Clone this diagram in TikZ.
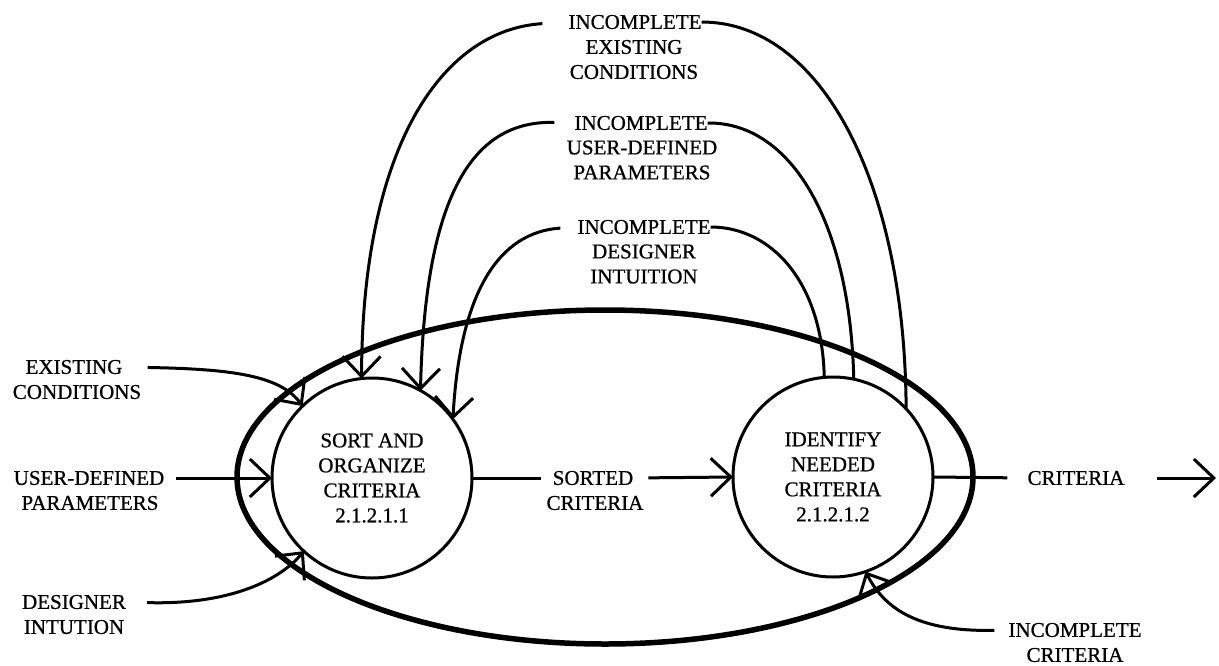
\documentclass[tikz,border=0pt]{standalone}
\usepackage{fontspec}
\setmainfont[FakeBold=0.8,AutoFakeBold=0.8]{Liberation Serif}
\usetikzlibrary{arrows.meta}
\begin{document}
\begin{tikzpicture}[x=1pt,y=-1pt,
    lbl/.style={font=\fontsize{21}{25}\selectfont\bfseries, align=center, inner sep=0pt},
    proc/.style={draw, circle, line width=3pt, minimum size=200pt, inner sep=0pt, outer sep=0pt,
                 font=\fontsize{21}{25}\selectfont\bfseries, align=center},
    conn/.style={line width=3pt},
    flow/.style={conn, -{Straight Barb[length=20pt,width=38pt]}}]
  \useasboundingbox (0,0) rectangle (1219,665);
  % boundary of 2.1.2.1
  \draw[line width=5.5pt] (605,477) ellipse [x radius=368, y radius=167];
  % the two processes
  \node[proc] (org) at (372,478) {SORT AND\\ORGANIZE\\CRITERIA\\2.1.2.1.1};
  \node[proc] (idn) at (833,477) {IDENTIFY\\NEEDED\\CRITERIA\\2.1.2.1.2};
  % inputs on the left
  \node[lbl] (ex1) at (74,367) {EXISTING};
  \node[lbl] (ex2) at (77,392) {CONDITIONS};
  \node[lbl] (udp1) at (89,478) {USER-DEFINED};
  \node[lbl] (udp2) at (90,503) {PARAMETERS};
  \node[lbl] (dsg1) at (74,602) {DESIGNER};
  \node[lbl] (dsg2) at (74,627) {INTUTION};
  \draw[flow, shorten <=25pt] (ex1.east) .. controls (230,369) and (280,375) .. (org.134);
  \draw[flow, shorten <=12pt] (udp1.east) -- (org.west);
  \draw[flow, shorten <=21pt] (dsg1.east) .. controls (230,605) and (280,580) .. (org.227);
  % between the processes
  \node[lbl] (srt1) at (593,478) {SORTED};
  \node[lbl] (srt2) at (595,503) {CRITERIA};
  \draw[conn, shorten >=12pt] (org.east) -- (srt1.west);
  \draw[flow, shorten <=15pt] (srt1.east) -- (idn.west);
  % output
  \node[lbl] (crt) at (1076,478) {CRITERIA};
  \coordinate (out) at (1216,478);
  \draw[conn, shorten >=20pt] (idn.east) -- (crt.west);
  \draw[flow, shorten <=32pt] (crt.east) -- (out);
  % incomplete criteria back in
  \node[lbl] (ic1) at (1075,630) {INCOMPLETE};
  \node[lbl] (ic2) at (1075,655) {CRITERIA};
  \draw[flow, shorten <=14pt] (ic1.west) .. controls (920,632) and (885,610) .. (idn.-71);
  % feedback loops over the top
  \node[lbl] (ie1) at (635,22) {INCOMPLETE};
  \node[lbl] (ie2) at (634,59.5) {EXISTING\\CONDITIONS};
  \node[lbl] (iu1) at (641,123) {INCOMPLETE};
  \node[lbl] (iu2) at (642,160) {USER-DEFINED\\PARAMETERS};
  \node[lbl] (id1) at (644,227) {INCOMPLETE};
  \node[lbl] (id2) at (644,264) {DESIGNER\\INTUITION};
  \draw[conn] (idn.43) .. controls (905,180) and (820,22) .. (ie1.east);
  \draw[flow, shorten <=26pt] (ie1.west) .. controls (440,30) and (362,150) .. (org.96);
  \draw[conn] (idn.78) .. controls (850,220) and (790,122) .. (iu1.east);
  \draw[flow, shorten <=20pt] (iu1.west) .. controls (470,120) and (425,200) .. (org.61);
  \draw[conn] (idn.95) .. controls (822,280) and (770,227) .. (id1.east);
  \draw[flow, shorten <=17pt] (id1.west) .. controls (500,232) and (460,290) .. (org.36);
\end{tikzpicture}
\end{document}
